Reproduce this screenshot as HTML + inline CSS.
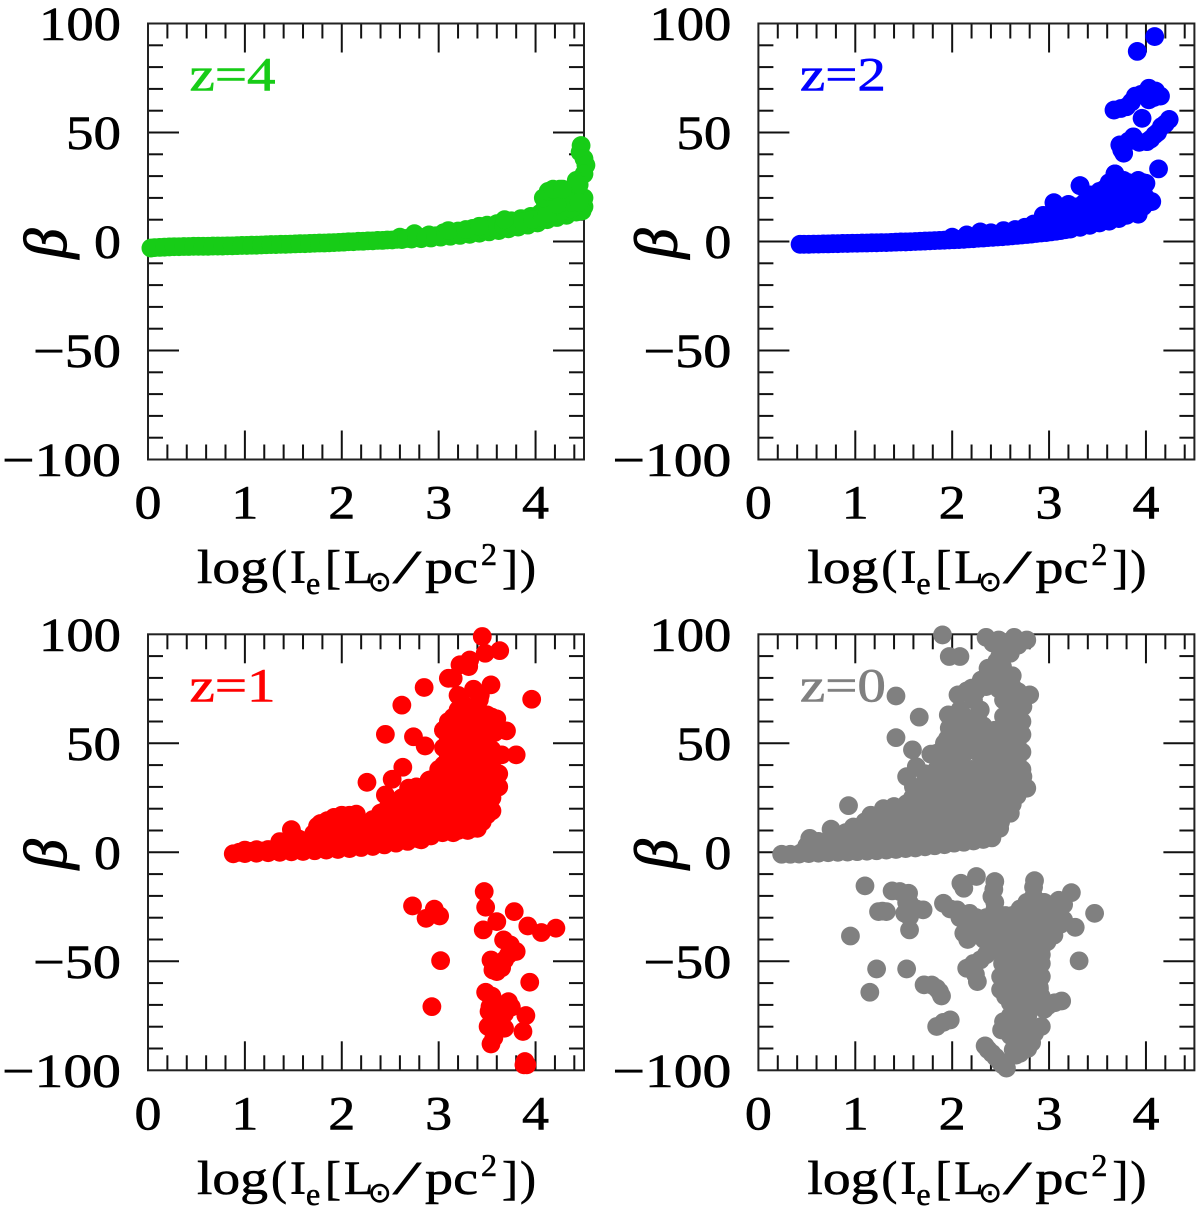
<!DOCTYPE html>
<html lang="en">
<head>
<meta charset="utf-8">
<title>Beta versus log surface brightness at four redshifts</title>
<style>
html,body{margin:0;padding:0;background:#fff;width:1200px;height:1218px;overflow:hidden}
svg{display:block}
text{font-family:"Liberation Serif","DejaVu Serif",serif;fill:#000;stroke:#000;stroke-width:.6px}
</style>
</head>
<body>
<svg id="figure" width="1200" height="1218" viewBox="0 0 1200 1218" xmlns="http://www.w3.org/2000/svg"></svg>
<script>
const xTickLabels = ["0","1","2","3","4"];
const xTickValues = [0,1,2,3,4];
const yTickLabels = ["100","50","0","\u221250","\u2212100"];
const yTickValues = [100,50,0,-50,-100];

const z4Log = [
0.03,0.12,0.22,0.32,0.42,0.52,0.62,0.72,0.82,0.92,
1.02,1.12,1.22,1.32,1.42,1.52,1.62,1.72,1.82,1.92,
2.02,2.12,2.22,2.32,2.42,2.52,2.62,2.72,2.82,2.92,
3.02,3.12,3.22,3.32,3.42,3.52,3.62,3.72,3.82,3.92,
4.02,4.12,4.22,4.32,4.42,4.5,
2.6,2.75,2.9,3.05,3.2,3.35,3.5,3.6,3.75,3.85,3.95,
4.05,4.1,4.15,4.2,4.25,4.3,4.35,4.4,4.5,4.48,4.2,4.3,
4.47,4.46,4.5,4.52,4.5,4.42,4.45,
0.07,0.17,0.27,0.37,0.47,0.57,0.67,0.77,0.87,0.97,
1.07,1.17,1.27,1.37,1.47,1.57,1.67,1.77,1.87,1.97,
2.07,2.17,2.27,2.37,2.47,2.57,2.67,2.77,2.87,2.97,
3.07,3.17,3.27,3.37,3.47,3.57,3.67,3.77,3.87,3.97,
4.07,4.17,4.27,4.37,4.27,4.37,4.12,4.22,4.45,
4.08,4.13,4.18,4.28,3.1,3.28,3.42,3.68
];
const z4Beta = [
-3,-2.7,-2.5,-2.4,-2.3,-2.2,-2.2,-2.1,-2,-1.9,
-1.8,-1.7,-1.5,-1.4,-1.3,-1.1,-1,-0.8,-0.7,-0.5,
-0.3,-0.1,0.1,0.3,0.5,0.7,0.9,1.1,1.3,1.6,
2,2.4,2.8,3.3,3.8,4.4,5,5.8,6.6,7.5,
8.5,10,11,12,13.5,16,
2,3.6,3,4,4.8,6,7.5,8.2,9.5,10.5,11.5,
13,16,19,22,24,23,20,17,20,14,16,15,
44,41,38,35,31,28,26,
-2.8,-2.6,-2.4,-2.3,-2.2,-2.2,-2.1,-2.1,-2,-1.8,
-1.7,-1.6,-1.4,-1.3,-1.2,-1,-0.9,-0.7,-0.6,-0.4,
-0.1,0.1,0.3,0.5,0.7,1,1.4,1.8,2.2,2.6,
3,3.6,4.2,4.8,5.5,6.5,7.2,8,9,10,
11,13,14,15,18,18,13,17,18,
20,23,24,24,5,5.5,7,10
];

const z2Log = [
0.43,0.52,0.62,0.72,0.82,0.92,1.02,1.12,1.22,1.32,
1.42,1.52,1.62,1.72,1.82,1.92,2.02,2.12,2.22,2.32,
2.42,2.52,2.62,2.72,2.82,2.92,3.02,3.12,3.22,3.32,
3.42,3.52,3.62,3.72,3.8,
2.0,2.15,2.29,2.4,2.53,2.65,2.75,2.84,2.94,3.0,3.1,3.05,3.05,3.2,
3.2,3.2,3.3,3.3,3.32,3.42,3.42,3.42,3.52,3.52,3.52,
3.62,3.62,3.62,3.62,3.68,3.72,3.72,3.72,3.82,3.82,3.82,3.82,
3.92,3.92,3.92,3.92,4.0,4.0,4.06,3.9,
4.09,3.91,4.03,3.89,4.15,4.03,3.8,3.67,3.96,4.24,4.16,4.09,
3.87,4.01,3.73,3.77,4.13,3.68,3.32,
0.47,0.57,0.67,0.77,0.87,0.97,1.07,1.17,1.27,1.37,
1.47,1.57,1.67,1.77,1.87,1.97,2.07,2.17,2.27,2.37,
2.47,2.57,2.67,2.77,2.87,2.97,3.07,3.17,
3.25,3.25,3.37,3.37,3.47,3.47,3.47,3.57,3.57,3.57,3.57,
3.67,3.67,3.67,3.67,3.77,3.77,3.77,3.77,3.87,3.87,3.87,
3.97,3.97,3.97,3.92,3.15,3.15,3.15,
4.05,4.12,4.2,3.93,3.82,3.75,3.95,4.08,4.0,3.74,3.85,4.1
];
const z2Beta = [
-1.3,-1.3,-1.2,-1.1,-1,-0.9,-0.8,-0.7,-0.6,-0.5,
-0.3,-0.2,0,0.2,0.4,0.6,0.8,1,1.3,1.6,
1.9,2.2,2.6,3,3.4,3.9,4.4,5,5.7,6.5,
7.4,8.5,9.3,10.5,12,
2,3,4.4,4,5,5.5,6.5,8,12,9,8,17.8,13,7.5,
17,12,16,11,25.6,21.4,15,11,23,17,12,
27,21,15,11.5,31,26,20,14,27,21,16,13,
28,22,17,14.5,26.7,20,18.3,15,
94,87.2,70.3,66.7,66.7,65,61.8,60.3,56.5,56,52.7,48.9,
48,45.8,44.3,40.5,33.3,31,25.6,
-1.3,-1.2,-1.1,-1,-0.9,-0.8,-0.7,-0.6,-0.5,-0.4,
-0.2,-0.1,0.1,0.3,0.5,0.7,0.9,1.2,1.5,1.8,
2.1,2.4,2.8,3.2,3.7,4.1,4.7,5.4,
9.5,14,13,18,9.5,14,19,10.5,14,19,24,
11.5,16,23,28,12.5,17,23,28,14,19,24,
16,23,27,12.5,7,11,15,
47,50,54,45.5,46,42,67.5,66,68,61,64,69
];

const z1Log = [
3.45,3.63,3.48,3.32,3.22,3.31,3.15,3.10,2.85,2.62,3.36,3.54,3.43,3.96,
3.2,3.36,3.6,3.7,3.5,3.05,2.45,2.74,2.86,3.65,3.8,2.63,2.26,2.52,2.69,2.91,
2.45,3.6,3.51,3.5,3.31,3.15,2.82,
0.88,1.0,1.12,1.24,1.36,1.48,1.6,1.72,1.84,1.96,2.08,2.2,2.32,2.44,2.56,2.68,2.8,2.92,3.04,
1.0,1.12,1.24,1.36,1.45,1.52,1.48,1.56,1.7,1.8,1.75,1.85,2.0,2.15,2.25,1.95,2.1,2.1,2.25,
2.4,2.4,2.4,2.55,2.55,2.55,2.7,2.7,2.7,2.7,2.85,2.85,2.85,2.85,
2.95,2.95,2.95,2.95,
3.05,3.05,3.05,3.05,3.05,3.05,3.05,
3.15,3.15,3.15,3.15,3.15,3.15,3.15,3.15,
3.25,3.25,3.25,3.25,3.25,3.25,3.25,3.25,
3.35,3.35,3.35,3.35,3.35,3.35,3.35,3.35,
3.45,3.45,3.45,3.45,3.45,3.45,3.45,
3.55,3.55,3.55,3.55,3.55,3.55,3.55,
3.62,3.62,
3.47,3.485,3.78,2.73,2.955,3.01,2.87,3.6,3.46,3.92,4.06,4.21,
3.67,3.74,3.8,3.54,3.68,3.6,3.6,3.02,3.94,3.485,3.72,3.53,2.93,
3.6,3.9,3.51,3.68,3.87,3.54,3.89,3.91,3.88,
0.94,1.06,1.18,1.3,1.36,1.42,1.54,1.62,1.66,1.74,1.71,1.78,1.78,1.86,1.86,
1.92,1.92,2.02,2.02,2.02,2.08,2.18,2.18,2.18,2.32,2.32,2.32,
2.47,2.47,2.47,2.47,2.62,2.62,2.62,2.62,2.77,2.77,2.77,2.77,2.77,
2.9,2.9,2.9,2.9,2.9,3.0,3.0,3.0,3.0,3.0,
3.1,3.1,3.1,3.1,3.1,3.1,3.1,
3.2,3.2,3.2,3.2,3.2,3.2,3.2,3.2,
3.3,3.3,3.3,3.3,3.3,3.3,3.3,3.3,
3.4,3.4,3.4,3.4,3.4,3.4,3.4,3.4,
3.5,3.5,3.5,3.5,3.5,3.5,3.5,
3.58,3.72,3.65,3.56,3.56,3.65,3.62,3.68,3.75,3.55,3.52,3.6,3.57,3.42,3.2
];
const z1Beta = [
99,92.5,91.3,88.2,86,85.2,79.8,79.8,75.6,67.5,74.8,76.8,72.2,70.2,
65.3,65.3,61.2,55.7,53,56,54.1,53,48.8,44.7,44.7,39,32.1,33.5,29.4,33.2,
26.3,34.7,21,17.2,11,9.5,5.7,
-0.7,-0.6,-0.4,-0.2,0,0.2,0.4,0.7,1,1.3,1.7,2.2,2.7,3.4,4.2,5,6,7.5,9,
1,1.2,1.3,1.8,5,7,10.4,6,5,8,12,14.5,17,17.5,13,10,11,6,7,
8,13,18,10,16,22,10,16,22,28,12,18,24,30,
30,22,15,10,
56,48,40,32,24,16,10,
62,54,46,38,30,22,14,9,
68,60,52,44,36,28,20,12,
66,58,50,42,34,26,18,11,
60,52,44,36,28,20,14,
62,55,47,39,31,25,19,
36,30,
-18,-25.2,-27.2,-24.6,-26.1,-29.2,-30.3,-31.8,-35.6,-33.8,-36.8,-34.8,
-40.2,-42.5,-45.5,-49.4,-49.4,-50.9,-54.7,-49.7,-59.6,-64.2,-68.5,-70.8,-70.8,
-75.4,-74.9,-79.9,-80.7,-82.2,-87.9,-96,-97.5,-97.5,
0,0.4,0.6,0.8,4.9,2.5,2.5,2.2,5.5,2.8,8.6,13.2,5,3.5,8,
12,16,4,7.5,12,17,4.5,9,13.5,5.5,10,15,
6.5,11,15.5,20,7.5,13,19,25,8.5,13,19,25,30,
10,15,21,27,33,14,20,26,32,38,
60,52,44,36,28,20,12,
64,56,48,40,32,24,16,10,
64,56,48,40,32,24,16,10,
62,54,46,38,30,22,15,11,
63,56,48,40,32,24,18,
55,-47,-53,-54,-74,-76,-80,-74,-71,-66,-73,-70,-85,70,72
];

const z0Log = [
1.9,2.35,2.64,2.77,2.48,1.97,2.08,2.6,2.49,2.46,2.37,1.42,1.66,1.42,1.59,0.93,0.53,0.75,
2.06,2.2,2.56,2.8,2.68,1.96,2.08,2.22,2.29,2.53,2.73,2.67,2.53,
0.24,0.33,0.42,0.52,0.62,0.72,0.82,0.92,1.02,1.12,1.22,1.32,1.42,1.52,1.62,1.72,1.82,1.92,2.02,2.12,2.22,2.32,2.41,
0.5,0.62,0.75,0.85,0.98,0.98,1.1,1.1,1.29,1.29,1.29,1.4,1.4,1.4,1.53,1.53,1.53,1.53,1.65,1.65,1.65,1.65,
1.8,1.8,1.8,1.8,1.53,1.63,1.6,1.75,1.84,1.84,1.9,
1.95,1.95,1.95,1.95,1.95,1.95,1.95,
2.08,2.08,2.08,2.08,2.08,2.08,2.08,
2.2,2.2,2.2,2.2,2.2,2.2,
2.32,2.32,2.32,2.32,2.32,2.32,2.32,2.32,
2.44,2.44,2.44,2.44,2.44,2.44,2.44,
2.56,2.56,2.56,2.56,2.56,2.56,
2.67,2.67,2.67,2.67,2.67,2.77,2.73,2.49,2.6,
1.1,1.38,1.55,1.56,1.7,1.24,1.32,1.51,1.56,0.95,1.22,1.53,1.71,1.84,1.89,1.15,1.98,1.84,
2.09,2.25,2.12,2.44,2.41,2.44,2.85,2.84,3.23,3.47,3.27,3.31,1.91,2.05,2.18,2.12,2.22,
2.15,2.29,2.26,3.13,2.99,2.92,2.92,2.53,2.51,2.82,2.34,2.41,2.49,2.56,2.7,2.63,2.73,
2.7,2.85,3.0,3.08,
2.5,2.65,2.8,2.95,3.1,3.15,
2.3,2.45,2.6,2.75,2.9,3.05,
2.5,2.65,2.8,2.92,
2.52,2.65,2.8,2.92,
2.5,2.65,2.8,2.92,
2.5,2.62,2.75,2.9,
2.6,2.72,2.82,
2.65,2.78,
2.68,2.78,
2.65,2.75,
2.25,2.35,2.2,2.33,
0.45,0.55,0.68,0.78,0.9,0.9,1.04,1.04,1.16,1.16,1.16,1.23,
1.35,1.35,1.35,1.47,1.47,1.47,1.47,1.59,1.59,1.59,1.59,1.59,
1.72,1.72,1.72,1.72,1.72,1.72,1.87,1.87,1.87,1.87,1.87,1.87,
2.02,2.02,2.02,2.02,2.02,2.02,2.02,2.14,2.14,2.14,2.14,2.14,2.14,
2.26,2.26,2.26,2.26,2.26,2.26,2.38,2.38,2.38,2.38,2.38,2.38,
2.5,2.5,2.5,2.5,2.5,2.5,2.62,2.62,2.62,2.62,2.62,2.62,
2.72,2.72,2.72,2.72,2.15,2.35,2.48,2.62,
2.46,2.55,2.4,2.5,2.6,2.55,2.42,2.68,2.52,
1.78,1.92,1.97,
2.77,2.92,2.55,2.62,2.77,2.92,3.05,
2.38,2.52,2.67,2.82,2.97,2.42,2.57,2.72,2.87,2.98,
2.52,2.65,2.8,2.92,2.55,2.72,2.86,2.55,2.72,2.86,
2.55,2.68,2.82,2.63,2.77,2.7,2.72,2.78,
1.98,2.08,2.15,2.28,2.16,2.3,
2.43,2.44,2.84,2.78,2.9,2.95,3.1,3.15,3.12,
2.22,2.35,2.24,3.06,2.9,2.95,
2.37,2.45,2.52,2.58,2.6,2.66,2.75,2.85,2.75,2.6,
1.46,1.53,1.63,1.56,1.28,1.79,1.87,1.91,
2.14,2.26,2.2,2.25,2.3,2.44,2.5,2.62
];
const z0Beta = [
99.7,98.6,98.6,97.4,97.4,89.8,89.8,91.3,89.8,87.5,84.4,71.7,62,52.6,47,21.4,6.4,10.6,
72.2,75.3,76,72.2,73.7,63,65.3,69.9,65.3,69.9,66.8,62.3,62.3,
-0.9,-0.9,-0.8,-0.6,-0.4,-0.2,0,0.1,0.3,0.5,0.7,1,1.3,1.7,2,2.5,3,3.5,4.2,4.6,5.2,5.9,6.6,
3,5,6,8,11.6,6,14,8,20,14,8,21,15,9,22.3,16,10,5,22,16,10,5,
22,16,10,6,34.7,39.3,30,30,45.4,38,30,
52,44,36,28,20,14,8,
60,52,40,32,24,16,9,
58,38,30,22,14,8,
58,50,42,34,26,18,11,8,
56,48,40,32,24,16,11,
58,50,42,34,26,18,
58,50,42,34,26,29.4,34.7,11,17.9,
-15.4,-17.7,-18.8,-23.4,-26.4,-27.2,-27.2,-28,-35.6,-38.4,-53.5,-53.5,-60.8,-62.4,-65.9,-64.2,-76.9,-79.9,
-14.2,-11.1,-16.5,-13.4,-20.3,-26.4,-13,-20.3,-18.5,-28,-34.4,-49.8,-23.4,-26.4,-28,-37.1,-34,
-53.2,-49.4,-59.3,-68.2,-70.3,-66.2,-79.9,-77.7,-81.5,-87.3,-88.8,-92.2,-96,-99,-92.2,-90.6,-86,
-26,-26,-26,-23,
-32.5,-32.5,-32.5,-32.5,-32.5,-31,
-38,-38,-38,-38,-38,-38,
-44,-44,-44,-44,
-51,-51,-51,-51,
-57,-57,-57,-57,
-63,-63,-63,-63,
-69,-69,-69,
-75,-75,
-81,-81,
-87,-87,
-30,-30,-38,-40,
0,1,2,3.5,4,9,3,10,4,11,17,6,
5,11,18,4,8,13,19,3.5,8,13,19,25,
4,8,13,19,26,36,6,12,18,25,33,41,
8,16,24,32,40,48,56,12,20,28,36,56,62,
12,20,28,36,54,62,12,20,28,36,44,52,
14,22,30,38,46,54,22,30,38,46,54,68,
46,54,60,38,74,76,75,76,
81,78,78,96,94,92,96,95,85,
45,50,57,
-23,-23,-29,-29,-29,-29,-29,
-35,-35,-35,-35,-35,-41,-41,-41,-41,-41,
-47,-47,-47,-47,-54,-54,-54,-60,-60,-60,
-66,-66,-66,-72,-72,-78,-84,-90,
-26,-30,-33,-36,-40,-33,
-17,-23,-16,-26,-26,-23,-22,-24,-33,
-51,-47,-56,-69,-62,-72,
-90.5,-94,-97.5,-80,-84,-93,-90,-83,-80,-75,
-18,-23,-26,-29.5,-27,-60.9,-64,-78,
46,46,51,74,79,79,80,81
];

const SVGNS = "http://www.w3.org/2000/svg";
const fig = document.getElementById("figure");
const PW = 436, PH = 436;

function make(tag, parent, attrs) {
  const el = document.createElementNS(SVGNS, tag);
  for (const k in attrs) el.setAttribute(k, attrs[k]);
  parent.appendChild(el);
  return el;
}

function yLabelLength(s) {
  return s.length === 1 ? 27 : s.length === 2 ? 55 : (s === "100" ? 82 : (s.length === 3 ? 88 : 119));
}

function drawPanel(key, ox, oy, logs, betas, color, label) {
  const xScale = v => ox + v / 4.5 * PW;
  const yScale = v => oy + (100 - v) / 200 * PH;

  const g = make("g", fig, {});
  
  

  const ticks = make("g", g, {stroke: "#111", "stroke-width": 2, fill: "none"});
  
  
  for (let i = 1; i <= 22; i++) {
    const v = i * 0.2;
    const len = i % 5 === 0 ? 29 : 15;
    const px = xScale(v);
    const t1 = make("line", ticks, {x1: px, x2: px, y1: oy, y2: oy + len});
    
    
    const t2 = make("line", ticks, {x1: px, x2: px, y1: oy + PH, y2: oy + PH - len});
    
    
  }
  for (let i = -9; i <= 9; i++) {
    const v = i * 10;
    const len = i % 5 === 0 ? 31 : 15;
    const py = yScale(v);
    const t1 = make("line", ticks, {x1: ox, x2: ox + len, y1: py, y2: py});
    
    
    const t2 = make("line", ticks, {x1: ox + PW, x2: ox + PW - len, y1: py, y2: py});
    
    
  }

  const frame = make("rect", g, {x: ox, y: oy, width: PW, height: PH, fill: "none", stroke: "#222", "stroke-width": 2});
  
  

  xTickValues.forEach((v, i) => {
    const t = make("text", g, {x: xScale(v), y: oy + 495, "text-anchor": "middle", "font-size": 48, textLength: 27, lengthAdjust: "spacingAndGlyphs"});
    
    
    t.textContent = xTickLabels[i];
  });
  yTickValues.forEach((v, i) => {
    const t = make("text", g, {x: ox - 27, y: yScale(v) + 16.5, "text-anchor": "end", "font-size": 48, textLength: yLabelLength(yTickLabels[i]), lengthAdjust: "spacingAndGlyphs"});
    
    
    t.textContent = yTickLabels[i];
  });

  const yt = make("text", g, {
    transform: "translate(" + (ox - 82) + " " + (oy + 220) + ") rotate(-90)",
    "text-anchor": "middle", "font-size": 60, "font-style": "italic", style: "stroke-width:1.2px"
  });
  
  
  yt.textContent = "\u03B2";

  const xt = make("text", g, {y: oy + 559.5, "font-size": 48});
  
  
  const pieces = [
    ["log", 49, 0, 48, 71], ["(", 123, 0, 48, 0], ["I", 142, 0, 48, 0], ["e", 158, 11, 32, 0],
    ["[", 177, 0, 48, 0], ["L", 196, 0, 48, 0], ["\u2299", 220, 8, 28, 0], ["/", 244, 0, 48, 30],
    ["pc", 277, 0, 48, 53], ["2", 333, -18, 32, 0], ["]", 354, 0, 48, 0], [")", 372, 0, 48, 0]
  ];
  pieces.forEach(p => {
    const s = make("tspan", xt, {x: ox + p[1], y: oy + 559.5 + p[2], "font-size": p[3]});
    if (p[4]) { s.setAttribute("textLength", p[4]); s.setAttribute("lengthAdjust", "spacingAndGlyphs"); }
    if (p[0] === "\u2299") s.setAttribute("style", "font-family:'DejaVu Sans',sans-serif");
    if (p[0] === "/") s.setAttribute("style", "stroke-width:0");
    s.textContent = p[0];
  });

  const pts = make("g", g, {fill: color});
  
  
  const n = Math.min(logs.length, betas.length);
  for (let i = 0; i < n; i++) {
    const c = make("circle", pts, {cx: xScale(logs[i]), cy: yScale(betas[i]), r: 9.4});
    
    
  }

  const lab = make("text", g, {x: ox + 41.5, y: oy + 67, "font-size": 48, textLength: 86, lengthAdjust: "spacingAndGlyphs"});
  
  
  lab.setAttribute("style", "fill:" + color + ";stroke:" + color);
  lab.textContent = label;
}

drawPanel("4", 148, 23.5, z4Log, z4Beta, "#17cc17", "z=4");
drawPanel("2", 758.4, 23.5, z2Log, z2Beta, "#0000ff", "z=2");
drawPanel("1", 148, 634.3, z1Log, z1Beta, "#ff0000", "z=1");
drawPanel("0", 758.4, 634.3, z0Log, z0Beta, "#808080", "z=0");
</script>
</body>
</html>
